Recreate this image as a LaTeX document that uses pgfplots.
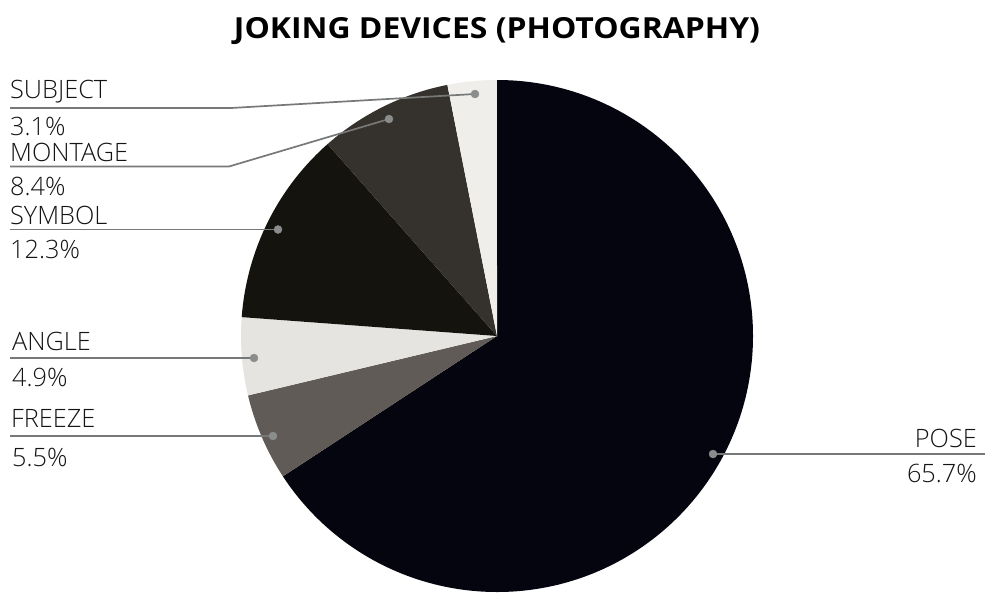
\documentclass[border=0pt]{standalone}
\usepackage{pgfplots}
\usepackage{pgfplotstable}
\pgfplotsset{compat=1.18}
\usepackage{fontspec}
\IfFontExistsTF{Open Sans Light}{\setmainfont{Open Sans Light}[BoldFont={Open Sans Bold}]}{\setmainfont{Open Sans}}
\newfontfamily\titlefont{Open Sans Bold}[FakeStretch=1.1]
\definecolor{cPose}{HTML}{04050E}
\definecolor{cFreeze}{HTML}{605B57}
\definecolor{cAngle}{HTML}{E6E4E0}
\definecolor{cSymbol}{HTML}{15130E}
\definecolor{cMontage}{HTML}{35312C}
\definecolor{cSubject}{HTML}{EFEEEA}
\definecolor{linegray}{HTML}{767977}
\definecolor{dotgray}{HTML}{8A8D8B}
\definecolor{txt}{HTML}{141414}
\pgfplotstableread[col sep=comma]{
label,value,color
POSE,65.7,cPose
FREEZE,5.5,cFreeze
ANGLE,4.9,cAngle
SYMBOL,12.3,cSymbol
MONTAGE,8.4,cMontage
SUBJECT,3.1,cSubject
}\piedata
\newcommand\lab{\fontsize{25.3}{28}\selectfont}
\begin{document}
\begin{tikzpicture}
\useasboundingbox (0,0) rectangle (985pt,592pt);
\begin{axis}[width=985pt,height=592pt,scale only axis,hide axis,
  xmin=0,xmax=985,ymin=0,ymax=592,y dir=reverse,clip=true,anchor=south west,at={(0,0)}]
\pgfplotsextra{%
  \xdef\cur{90}%
  \pgfplotstablegetrowsof{\piedata}%
  \pgfmathtruncatemacro\nrows{\pgfplotsretval-1}%
  \foreach \i in {0,...,\nrows}{%
    \pgfplotstablegetelem{\i}{value}\of\piedata
    \edef\v{\pgfplotsretval}%
    \pgfplotstablegetelem{\i}{color}\of\piedata
    \edef\c{\pgfplotsretval}%
    \pgfmathsetmacro\endang{\cur-\v/99.9*360}%
    \fill[fill=\c] (axis cs:497,336) -- ++(\cur:256pt) arc[start angle=\cur,end angle=\endang,radius=256pt] -- cycle;
    \xdef\cur{\endang}%
  }%
}
\addplot[linegray,line width=1.7pt] coordinates {(10,108) (231,108) (475,94)};
\addplot[linegray,line width=1.7pt] coordinates {(10,166.5) (229,166.5) (389,119)};
\addplot[linegray,line width=1.7pt] coordinates {(10,229.5) (278,229.5)};
\addplot[linegray,line width=1.7pt] coordinates {(10,358) (254,358)};
\addplot[linegray,line width=1.7pt] coordinates {(10,436) (273,436)};
\addplot[linegray,line width=1.7pt] coordinates {(713,454) (985,454)};
\addplot[only marks,mark=*,mark size=4pt,dotgray,mark options={draw=dotgray,fill=dotgray}] coordinates {(475,94) (389,119) (278,229.5) (254,358) (273,436) (713,454)};
\node[anchor=base,font=\titlefont\fontsize{29}{32}\selectfont,text=black,inner sep=0pt] at (axis cs:497,38) {JOKING DEVICES (PHOTOGRAPHY)};
\node[anchor=base west,font=\lab,text=txt,inner sep=0pt] at (axis cs:10,98) {SUBJECT};
\node[anchor=base west,font=\lab,text=txt,inner sep=0pt] at (axis cs:10,135) {3.1\%};
\node[anchor=base west,font=\lab,text=txt,inner sep=0pt] at (axis cs:10,161) {MONTAGE};
\node[anchor=base west,font=\lab,text=txt,inner sep=0pt] at (axis cs:10,195) {8.4\%};
\node[anchor=base west,font=\lab,text=txt,inner sep=0pt] at (axis cs:10,224) {SYMBOL};
\node[anchor=base west,font=\lab,text=txt,inner sep=0pt] at (axis cs:10,258) {12.3\%};
\node[anchor=base west,font=\lab,text=txt,inner sep=0pt] at (axis cs:12,350) {ANGLE};
\node[anchor=base west,font=\lab,text=txt,inner sep=0pt] at (axis cs:12,386) {4.9\%};
\node[anchor=base west,font=\lab,text=txt,inner sep=0pt] at (axis cs:11,427) {FREEZE};
\node[anchor=base west,font=\lab,text=txt,inner sep=0pt] at (axis cs:12,466) {5.5\%};
\node[anchor=base east,font=\lab,text=txt,inner sep=0pt] at (axis cs:977,447) {POSE};
\node[anchor=base east,font=\lab,text=txt,inner sep=0pt] at (axis cs:977,482) {65.7\%};
\end{axis}
\end{tikzpicture}
\end{document}
